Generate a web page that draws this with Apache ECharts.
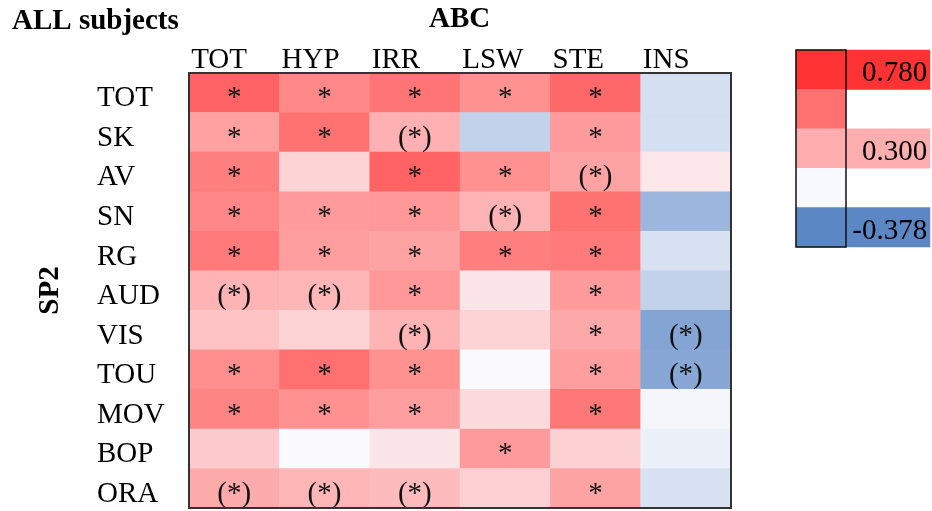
<!DOCTYPE html>
<html>
<head>
<meta charset="utf-8">
<script src="https://cdn.jsdelivr.net/npm/echarts@6/dist/echarts.min.js"></script>
<style>
  html, body { margin: 0; padding: 0; background: #ffffff; }
  #chart { width: 932px; height: 511px; }
</style>
</head>
<body>
<div id="chart"></div>
<script>
// ABC scales (columns) against SP2 scales (rows), all subjects
const abcScales = ['TOT', 'HYP', 'IRR', 'LSW', 'STE', 'INS'];
const sp2Scales = ['TOT', 'SK', 'AV', 'SN', 'RG', 'AUD', 'VIS', 'TOU', 'MOV', 'BOP', 'ORA'];

// correlation coefficients, one row per SP2 scale
const rTOT = [0.59, 0.44, 0.52, 0.41, 0.57, -0.085];
const rSK  = [0.35, 0.53, 0.29, -0.13, 0.37, -0.085];
const rAV  = [0.48, 0.16, 0.59, 0.41, 0.34, 0.08];
const rSN  = [0.45, 0.37, 0.38, 0.28, 0.53, -0.22];
const rRG  = [0.50, 0.36, 0.34, 0.48, 0.50, -0.08];
const rAUD = [0.28, 0.27, 0.38, 0.09, 0.37, -0.13];
const rVIS = [0.22, 0.16, 0.28, 0.16, 0.32, -0.28];
const rTOU = [0.42, 0.54, 0.41, 0.005, 0.36, -0.27];
const rMOV = [0.46, 0.41, 0.36, 0.13, 0.51, -0.01];
const rBOP = [0.19, 0.01, 0.09, 0.37, 0.17, -0.03];
const rORA = [0.31, 0.27, 0.25, 0.17, 0.34, -0.075];
const corr = [rTOT, rSK, rAV, rSN, rRG, rAUD, rVIS, rTOU, rMOV, rBOP, rORA];

// significance markers: '*' significant, '(*)' trend, '' none
const sigTOT = ['*', '*', '*', '*', '*', ''];
const sigSK  = ['*', '*', '(*)', '', '*', ''];
const sigAV  = ['*', '', '*', '*', '(*)', ''];
const sigSN  = ['*', '*', '*', '(*)', '*', ''];
const sigRG  = ['*', '*', '*', '*', '*', ''];
const sigAUD = ['(*)', '(*)', '*', '', '*', ''];
const sigVIS = ['', '', '(*)', '', '*', '(*)'];
const sigTOU = ['*', '*', '*', '', '*', '(*)'];
const sigMOV = ['*', '*', '*', '', '*', ''];
const sigBOP = ['', '', '', '*', '', ''];
const sigORA = ['(*)', '(*)', '(*)', '', '*', ''];
const sig = [sigTOT, sigSK, sigAV, sigSN, sigRG, sigAUD, sigVIS, sigTOU, sigMOV, sigBOP, sigORA];

// colour key steps (top to bottom) and which of them carry a label
const keySteps = [0.780, 0.540, 0.300, 0.000, -0.378];
const keyLabelled = [true, false, true, false, true];

const FONT = "'Liberation Serif', 'Times New Roman', serif";
const FS = 29;

const cells = [];
corr.forEach((row, r) => row.forEach((v, c) => cells.push([c, r, v])));

const keyCells = keySteps.map((v, i) => [0, i, v]);
const keyLabelCells = keySteps.map((v, i) => [0, i, v]).filter((d, i) => keyLabelled[i]);

const chart = echarts.init(document.getElementById('chart'), null, { renderer: 'canvas' });

const hiddenCat = (gridIndex, data, inverse) => ({
  type: 'category', gridIndex, data, inverse: !!inverse,
  axisLine: { show: false }, axisTick: { show: false }, axisLabel: { show: false },
  splitLine: { show: false }
});

chart.setOption({
  backgroundColor: '#ffffff',
  animation: false,
  title: [
    { text: 'ALL subjects', left: 12, top: 7, padding: 0,
      textStyle: { fontFamily: FONT, fontSize: FS, fontWeight: 'bold', color: '#000' } },
    { text: 'ABC', left: 429, top: 5, padding: 0,
      textStyle: { fontFamily: FONT, fontSize: FS, fontWeight: 'bold', color: '#000' } }
  ],
  grid: [
    { left: 189, top: 73, width: 542, height: 435, show: true, z: 10,
      borderColor: '#333', borderWidth: 2, backgroundColor: 'transparent' },
    { left: 796, top: 50, width: 50, height: 197, show: true, z: 10,
      borderColor: '#111', borderWidth: 1.5, backgroundColor: 'transparent' },
    { left: 846, top: 50, width: 84, height: 197 }
  ],
  xAxis: [
    {
      type: 'category', gridIndex: 0, data: abcScales, position: 'top',
      axisLine: { show: false }, axisTick: { show: false }, splitLine: { show: false },
      axisLabel: {
        interval: 0, margin: -2, color: '#000', fontFamily: FONT, fontSize: FS,
        formatter: '{h|{value}}',
        rich: { h: { width: 86, align: 'left', fontFamily: FONT, fontSize: FS, color: '#000' } }
      }
    },
    hiddenCat(1, ['key']),
    hiddenCat(2, ['label'])
  ],
  yAxis: [
    {
      type: 'category', gridIndex: 0, data: sp2Scales, inverse: true,
      axisLine: { show: false }, axisTick: { show: false }, splitLine: { show: false },
      name: 'SP2', nameLocation: 'middle', nameRotate: 90, nameGap: 124,
      nameTextStyle: { fontFamily: FONT, fontSize: FS, fontWeight: 'bold', color: '#000' },
      axisLabel: {
        interval: 0, align: 'left', margin: 92, color: '#000',
        formatter: '{r|{value}}',
        rich: { r: { fontFamily: FONT, fontSize: FS, color: '#000', padding: [12, 0, 0, 0] } }
      }
    },
    hiddenCat(1, keySteps.map(String), true),
    hiddenCat(2, keySteps.map(String), true)
  ],
  visualMap: {
    type: 'continuous', show: false, dimension: 2,
    min: -0.378, max: 0.78, seriesIndex: [0, 1, 2],
    inRange: { color: ['#5B87C5', '#FBFBFF', '#FF9595', '#FF3333'] }
  },
  series: [
    {
      type: 'heatmap', xAxisIndex: 0, yAxisIndex: 0, data: cells,
      itemStyle: { borderWidth: 0 },
      label: {
        show: true, offset: [0, 6], color: '#111', fontFamily: FONT, fontSize: FS,
        formatter: p => sig[p.value[1]][p.value[0]]
      },
      emphasis: { disabled: true }
    },
    {
      type: 'heatmap', xAxisIndex: 1, yAxisIndex: 1, data: keyCells,
      itemStyle: { borderWidth: 0 }, emphasis: { disabled: true }
    },
    {
      type: 'heatmap', xAxisIndex: 2, yAxisIndex: 2, data: keyLabelCells,
      itemStyle: { borderWidth: 0 }, emphasis: { disabled: true },
      label: {
        show: true, position: 'insideRight', distance: 3, offset: [0, 4],
        color: '#000', fontFamily: FONT, fontSize: FS,
        formatter: p => p.value[2].toFixed(3)
      }
    }
  ]
});
</script>
</body>
</html>
